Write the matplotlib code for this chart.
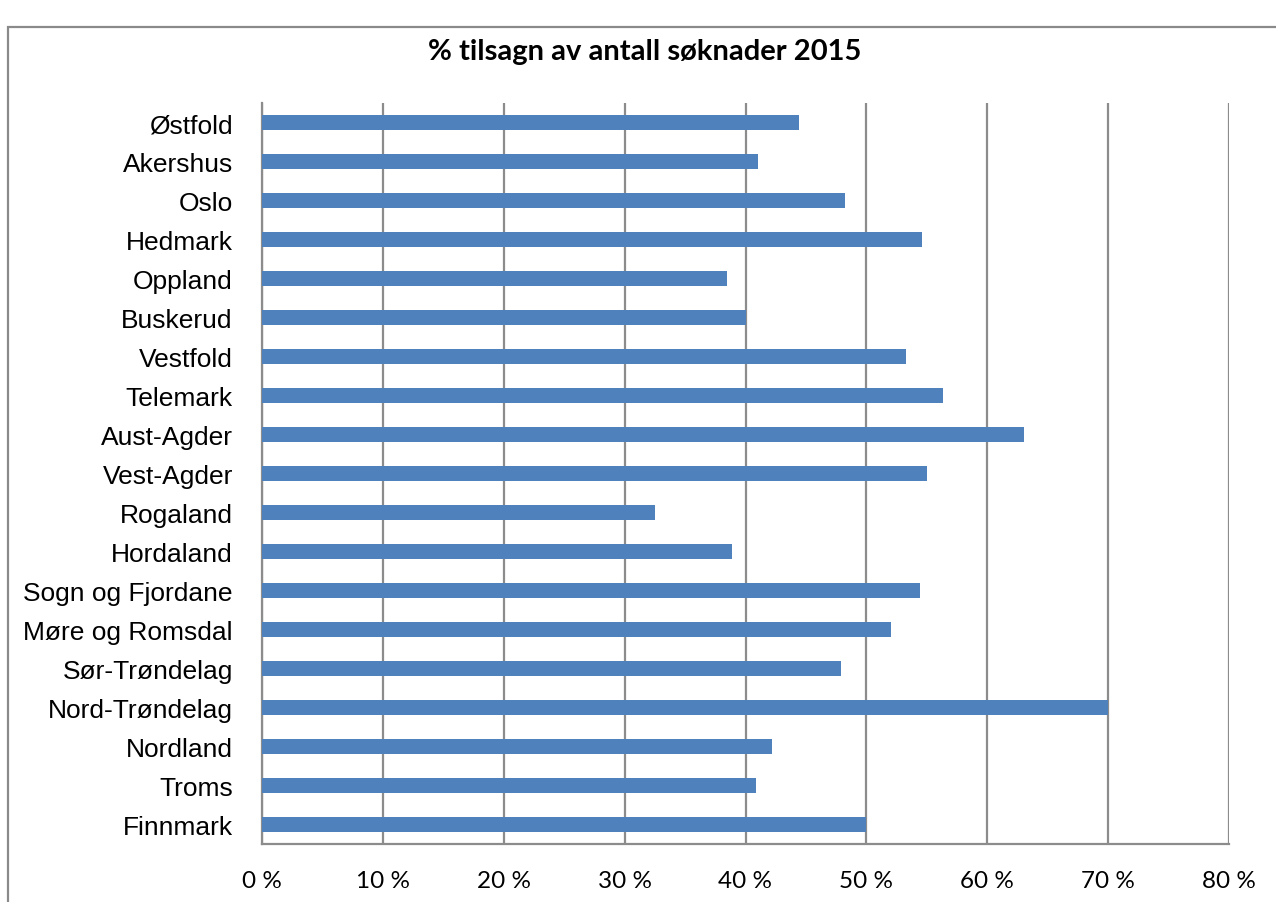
import matplotlib
matplotlib.use('Agg')
import matplotlib.pyplot as plt
from matplotlib.patches import Rectangle
import numpy as np


counties = ['Østfold', 'Akershus', 'Oslo', 'Hedmark', 'Oppland', 'Buskerud',
            'Vestfold', 'Telemark', 'Aust-Agder', 'Vest-Agder', 'Rogaland',
            'Hordaland', 'Sogn og Fjordane', 'Møre og Romsdal', 'Sør-Trøndelag',
            'Nord-Trøndelag', 'Nordland', 'Troms', 'Finnmark']
share = [44.4, 41.0, 48.2, 54.6, 38.5, 40.0, 53.3, 56.3, 63.0, 55.0,
         32.5, 38.9, 54.4, 52.0, 47.9, 70.0, 42.2, 40.9, 50.0]
xticks = [0, 10, 20, 30, 40, 50, 60, 70, 80]
title = '% tilsagn av antall søknader 2015'

bar_color = '#4F81BD'
grid_color = '#8C8C8C'

#-----

W, H = 1276, 903
fig = plt.figure(figsize=(W / 100, H / 100), dpi=100)
ax = fig.add_axes([262 / W, 1 - 845 / H, (1229 - 262) / W, (845 - 104) / H])

y = np.arange(len(counties))
ax.barh(y, share, height=0.4, color=bar_color, zorder=3)

ax.set_xlim(0, 80)
ax.set_ylim(len(counties) - 0.5, -0.5)

ax.set_xticks(xticks)
ax.set_xticklabels(['{} %'.format(t) for t in xticks],
                   family=['Lato', 'DejaVu Sans'], fontsize=17.5)
ax.set_yticks(y)
ax.set_yticklabels(counties, family=['Liberation Sans', 'DejaVu Sans'],
                   fontsize=19)
ax.tick_params(axis='both', length=0)
ax.tick_params(axis='x', pad=19)
ax.tick_params(axis='y', pad=21)

ax.xaxis.grid(True, color=grid_color, linewidth=1.6, zorder=0)
ax.yaxis.grid(False)
for side in ['top', 'right']:
    ax.spines[side].set_visible(False)
for side in ['left', 'bottom']:
    ax.spines[side].set_color(grid_color)
    ax.spines[side].set_linewidth(1.6)

# chart frame, only the left and top edges fall inside the picture
fig.patches.append(Rectangle((7.5 / W, -0.1), 1.2, 1 - 28 / H + 0.1,
                             transform=fig.transFigure, fill=False,
                             edgecolor='#8A8A8A', linewidth=1.6))

fig.text(645 / W, 1 - 52 / H, title, ha='center', va='center',
         family=['Lato', 'DejaVu Sans'], fontweight='bold', fontsize=21)

plt.savefig('out.png', dpi=100)
